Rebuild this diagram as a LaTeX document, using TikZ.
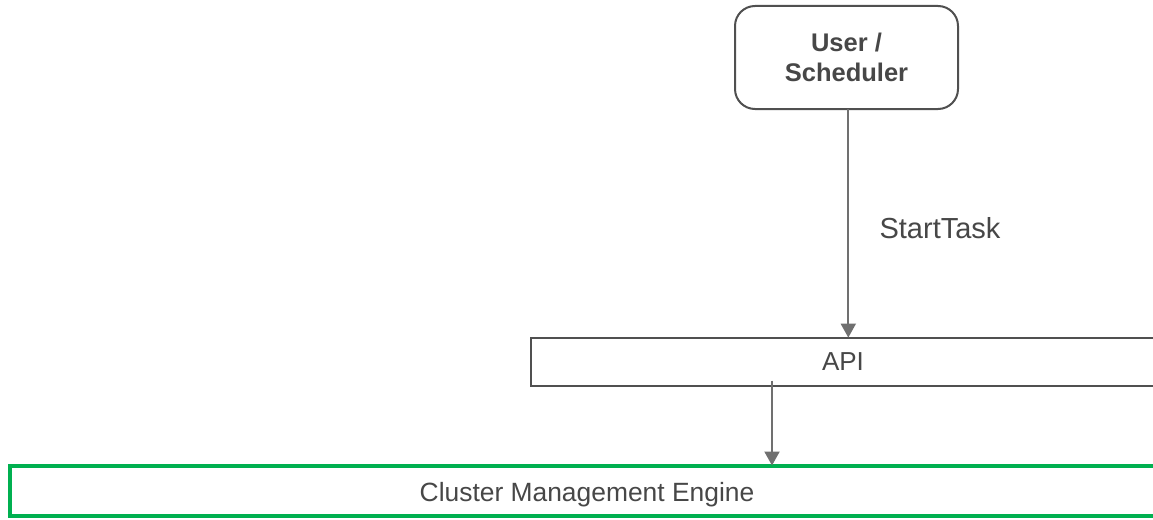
\documentclass[tikz,border=0pt]{standalone}
\usepackage{fontspec}
\setmainfont{Liberation Sans}
\usetikzlibrary{arrows.meta}
\definecolor{boxline}{HTML}{505050}
\definecolor{arrowgray}{HTML}{707070}
\definecolor{txtgray}{HTML}{474747}
\definecolor{cmegreen}{HTML}{00B050}
\begin{document}
\begin{tikzpicture}[x=1pt,y=-1pt,
  box/.style={draw=boxline, line width=2pt, inner sep=0pt, outer sep=0pt, text=txtgray},
  greenbox/.style={draw=cmegreen, line width=4pt, inner sep=0pt, outer sep=0pt, text=txtgray},
  arr/.style={draw=arrowgray, line width=2pt, -{Triangle[length=14pt,width=15pt]}},
  lbl/.style={text=txtgray, inner sep=0pt}]
\useasboundingbox (0,0) rectangle (1153,519);
\clip (0,0) rectangle (1153,519);
\fill[white] (0,0) rectangle (1153,519);

\node[box, rounded corners=20pt, minimum width=223pt, minimum height=103pt, align=center,
      font=\fontsize{25.5}{30.6}\selectfont\bfseries] (user) at (846.5,57.5) {User /\\Scheduler};
\node[box, minimum width=624pt, minimum height=48pt,
      font=\fontsize{26}{31}\selectfont] (api) at (843,361.6) {API};
\node[greenbox, minimum width=1154pt, minimum height=50.5pt, text height=22pt, text depth=0pt,
      font=\fontsize{26.4}{32}\selectfont] (cme) at (587,490.75) {Cluster Management Engine};

\coordinate (x1) at (848.3,0);
\draw[arr] (user.south -| x1) -- (api.north -| x1);
\node[lbl, anchor=base, font=\fontsize{29}{35}\selectfont] (starttask) at (940,238) {StartTask};

\coordinate (a2) at (772,380.7);
\draw[arr] (a2) -- (cme.north -| a2);
\end{tikzpicture}
\end{document}
